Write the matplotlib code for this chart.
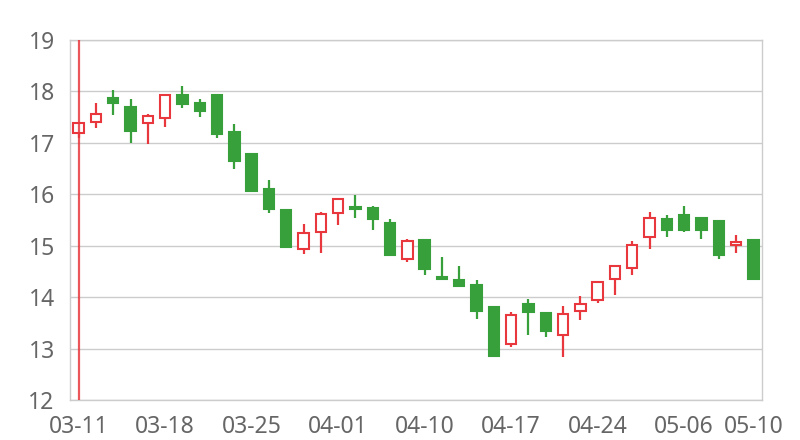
import matplotlib
matplotlib.use('Agg')
import matplotlib.pyplot as plt
import numpy as np

# daily candles, 2024-03-11 .. 2024-05-10
dates = ['03-11', '03-12', '03-13', '03-14', '03-15',
         '03-18', '03-19', '03-20', '03-21', '03-22',
         '03-25', '03-26', '03-27', '03-28', '03-29',
         '04-01', '04-02', '04-03', '04-08', '04-09',
         '04-10', '04-11', '04-12', '04-15', '04-16',
         '04-17', '04-18', '04-19', '04-22', '04-23',
         '04-24', '04-25', '04-26', '04-29', '04-30',
         '05-06', '05-07', '05-08', '05-09', '05-10']
opens = [17.20, 17.40, 17.87, 17.70, 17.39, 17.49, 17.93, 17.78, 17.93, 17.21,
         16.78, 16.10, 15.69, 14.93, 15.26, 15.64, 15.76, 15.73, 15.45, 14.74,
         15.11, 14.40, 14.33, 14.23, 13.80, 13.09, 13.87, 13.69, 13.27, 13.74,
         13.95, 14.36, 14.57, 15.17, 15.52, 15.59, 15.53, 15.49, 15.01, 15.12]
closes = [17.39, 17.56, 17.77, 17.23, 17.53, 17.94, 17.75, 17.62, 17.18, 16.64,
          16.07, 15.72, 14.98, 15.25, 15.61, 15.91, 15.72, 15.51, 14.81, 15.10,
          14.54, 14.36, 14.22, 13.73, 12.86, 13.65, 13.72, 13.34, 13.67, 13.86,
          14.30, 14.60, 15.02, 15.53, 15.31, 15.30, 15.31, 14.82, 15.07, 14.36]
highs = [17.40, 17.78, 18.02, 17.85, 17.56, 17.95, 18.11, 17.85, 17.94, 17.36,
         16.80, 16.28, 15.72, 15.42, 15.66, 15.92, 15.98, 15.78, 15.51, 15.13,
         15.12, 14.79, 14.61, 14.34, 13.81, 13.71, 13.96, 13.71, 13.82, 14.03,
         14.31, 14.63, 15.09, 15.65, 15.59, 15.77, 15.54, 15.50, 15.20, 15.13]
lows = [17.10, 17.28, 17.55, 16.99, 16.97, 17.30, 17.67, 17.50, 17.10, 16.50,
        16.06, 15.64, 14.95, 14.84, 14.85, 15.40, 15.53, 15.30, 14.80, 14.69,
        14.43, 14.33, 14.21, 13.57, 12.84, 13.04, 13.27, 13.22, 12.83, 13.56,
        13.89, 14.04, 14.43, 14.94, 15.16, 15.27, 15.14, 14.74, 14.85, 14.33]
tick_idx = [0, 5, 10, 15, 20, 25, 30, 35, 39]
yticks = [12, 13, 14, 15, 16, 17, 18, 19]

up_color = '#e8383d'
down_color = '#38a03a'

plt.rcParams['font.family'] = ['Noto Sans', 'DejaVu Sans']
fig = plt.figure(figsize=(8, 4.4), dpi=100)
ax = fig.add_axes([0.0875, 0.0909, 0.865, 0.8182])

x = np.arange(len(dates))
o = np.array(opens)
c = np.array(closes)
up = c >= o
colors = [up_color if u else down_color for u in up]

ax.vlines(x, lows, highs, colors=colors, linewidth=1.6, zorder=3)
ax.bar(x, np.abs(c - o), bottom=np.minimum(o, c), width=0.6,
       color=['white' if u else down_color for u in up],
       edgecolor=colors, linewidth=1.5, zorder=4)

ax.axvline(0, color=up_color, alpha=0.85, linewidth=1.6, zorder=5)

ax.set_xlim(-0.5, len(dates) - 0.5)
ax.set_ylim(12, 19)
ax.set_yticks(yticks)
ax.set_xticks(tick_idx)
ax.set_xticklabels([dates[i] for i in tick_idx])
ax.grid(axis='y', color='#cccccc', linewidth=1)
ax.set_axisbelow(True)
for s in ax.spines.values():
    s.set_color('#cccccc')
    s.set_linewidth(1)
ax.tick_params(length=0, labelsize=16.5, colors='#666666')
ax.tick_params(axis='y', pad=11)
ax.tick_params(axis='x', pad=11)

fig.savefig('out.png', dpi=100)
